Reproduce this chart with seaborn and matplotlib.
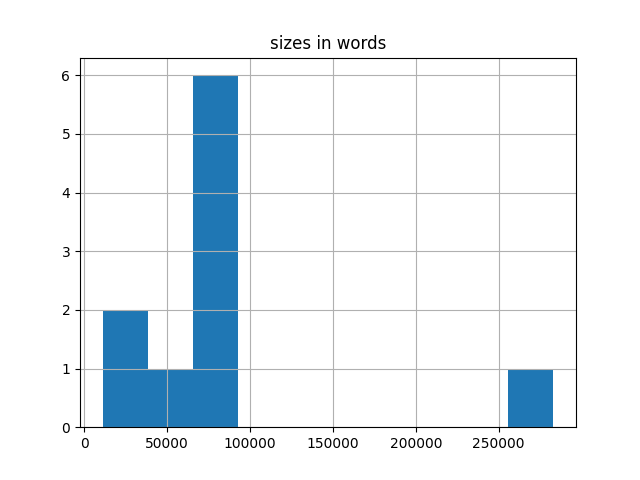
# -*- coding: utf-8 -*-

import matplotlib
matplotlib.use("Agg")
import matplotlib.pyplot as plt
import seaborn as sns
import numpy as np


# word counts per text (estimated from the histogram)
sizes_in_words = [11000, 30000, 52000, 68000, 72000, 76000,
                  80000, 85000, 92000, 283000]


def main():
    fig, ax = plt.subplots(figsize=(6.4, 4.8), dpi=100)

    sns.histplot(x=np.array(sizes_in_words), bins=10, ax=ax,
                 color='#1f77b4', alpha=1, linewidth=0)

    ax.set_title('sizes in words')
    ax.set_xlabel('')
    ax.set_ylabel('')
    ax.grid(True)

    fig.savefig('out.png')


if __name__ == "__main__":
    main()
